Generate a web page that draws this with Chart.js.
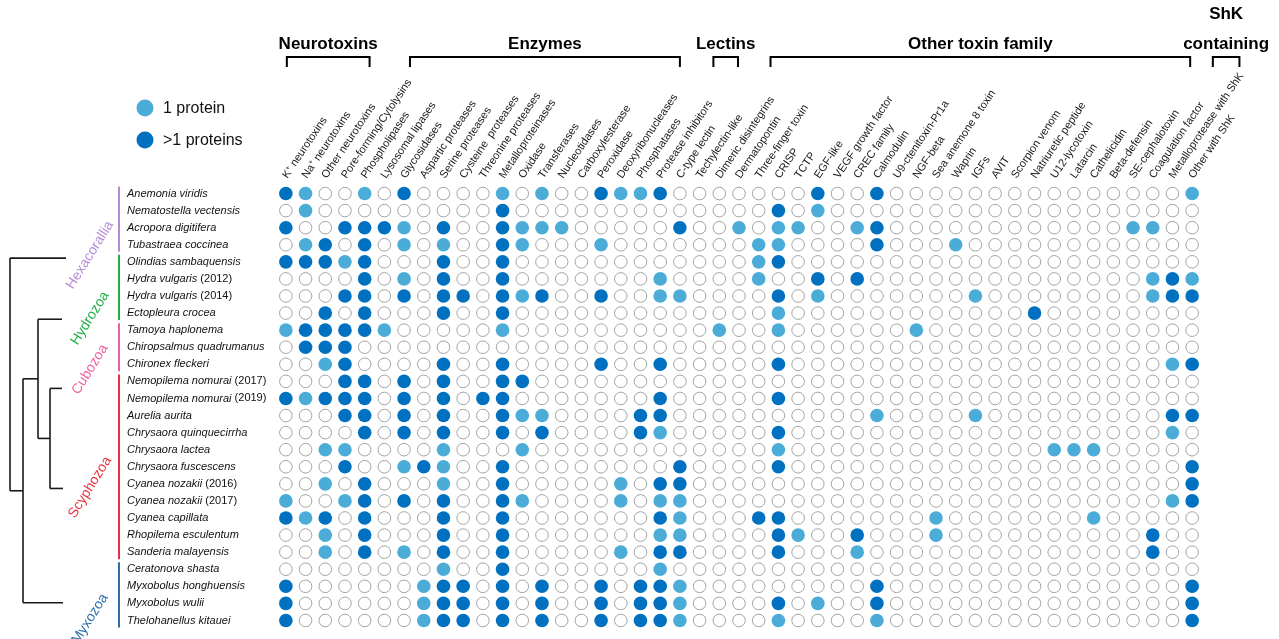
<!DOCTYPE html>
<html>
<head>
<meta charset="utf-8">
<title>Toxin families across cnidarian and myxozoan species</title>
<script src="https://cdn.jsdelivr.net/npm/chart.js@4/dist/chart.umd.min.js"></script>
<style>
  html, body { margin: 0; padding: 0; background: #ffffff; }
  #wrap { width: 1279px; height: 639px; position: relative; }
</style>
</head>
<body>
<div id="wrap"><canvas id="toxinChart" width="1279" height="639"></canvas></div>
<script>
// Toxin families (columns)
const toxinFamilies = [
  'K\u207A neurotoxins', 'Na\u207A neurotoxins', 'Other neurotoxins', 'Pore-forming/Cytolysins',
  'Phospholipases', 'Lysosomal lipases', 'Glycosidases', 'Aspartic proteases', 'Serine proteases',
  'Cysteine  proteases', 'Threonine proteases', 'Metalloproteinases', 'Oxidase', 'Transferases',
  'Nucleotidases', 'Carboxylesterase', 'Peroxidase', 'Deoxyribonucleases', 'Phosphatases',
  'Protease inhibitors', 'C-type lectin', 'Techylectin-like', 'Dimeric disintegrins', 'Dermatopontin',
  'Three-finger toxin', 'CRISP', 'TCTP', 'EGF-like', 'VEGF growth factor', 'CREC family',
  'Calmodulin', 'U9-ctenitoxin-Pr1a', 'NGF-beta', 'Sea anemone 8 toxin', 'Waprin', 'IGFs', 'AVIT',
  'Scorpion venom', 'Natriuretic peptide', 'U12-lycotoxin', 'Latarcin', 'Cathelicidin',
  'Beta-defensin', 'SE-cephalotoxin', 'Coagulation factor', 'Metalloprotease with ShK', 'Other with ShK'
];

// Species (rows, top to bottom)
const species = [
  'Anemonia viridis', 'Nematostella vectensis', 'Acropora digitifera', 'Tubastraea coccinea',
  'Olindias sambaquensis', 'Hydra vulgaris (2012)', 'Hydra vulgaris (2014)', 'Ectopleura crocea',
  'Tamoya haplonema', 'Chiropsalmus quadrumanus', 'Chironex fleckeri',
  'Nemopilema nomurai (2017)', 'Nemopilema nomurai (2019)', 'Aurelia aurita',
  'Chrysaora quinquecirrha', 'Chrysaora lactea', 'Chrysaora fuscescens', 'Cyanea nozakii (2016)',
  'Cyanea nozakii (2017)', 'Cyanea capillata', 'Rhopilema esculentum', 'Sanderia malayensis',
  'Ceratonova shasta', 'Myxobolus honghuensis', 'Myxobolus wulii', 'Thelohanellus kitauei'
];

// Number of proteins per family: 0 = none, 1 = one protein, 2 = more than one
const presence = [
  '210010200001' + '010021120000' + '000200200000' + '00000000001',
  '010000000002' + '000000000000' + '020100000000' + '00000000000',
  '200222102002' + '111000002001' + '011001200000' + '00000001100',
  '012020101002' + '100010000000' + '110000200010' + '00000000000',
  '222120002002' + '000000000000' + '120000000000' + '00000000000',
  '000020102002' + '000000010000' + '100202000000' + '00000000121',
  '000220202202' + '120020011000' + '020100000001' + '00000000122',
  '002020002002' + '000000000000' + '010000000000' + '00200000000',
  '122221000001' + '000000000010' + '010000001000' + '00000000000',
  '022200000000' + '000000000000' + '000000000000' + '00000000000',
  '001200002002' + '000020020000' + '020000000000' + '00000000012',
  '000220202002' + '200000000000' + '000000000000' + '00000000000',
  '212220202022' + '000000020000' + '020000000000' + '00000000000',
  '000220202002' + '110000220000' + '000000100001' + '00000000022',
  '000020202002' + '020000210000' + '020000000000' + '00000000010',
  '001100001000' + '100000000000' + '010000000000' + '00011100000',
  '000200121002' + '000000002000' + '020000000000' + '00000000002',
  '001020001002' + '000001022000' + '000000000000' + '00000000002',
  '100120202002' + '100001011000' + '000000000000' + '00000000012',
  '212020002002' + '000000021000' + '220000000100' + '00000100000',
  '001020002002' + '000000011000' + '021002000100' + '00000000200',
  '001020102002' + '000001022000' + '020001000000' + '00000000200',
  '000000001002' + '000000010000' + '000000000000' + '00000000000',
  '200000012202' + '020020221000' + '000000200000' + '00000000002',
  '200000012202' + '020020221000' + '020100200000' + '00000000002',
  '200000012202' + '020020221000' + '010000100000' + '00000000002'
];

// Clades: name, first/last row, colour
const cladeNames = ['Hexacorallia', 'Hydrozoa', 'Cubozoa', 'Scyphozoa', 'Myxozoa'];
const cladeFirstRow = [0, 4, 8, 11, 22];
const cladeLastRow = [3, 7, 10, 21, 25];
const cladeColors = ['#B58BD8', '#1FAF45', '#EE5FA0', '#E8323F', '#2E6DA6'];
const cladeLabelRow = [3.6, 7.3, 10.3, 17.2, 24.9];

// Dendrogram leaves (row position) for each clade
const treeLeafRow = [3.78, 7.36, 11.41, 17.27, 23.96];

// Column groups shown in the header (column positions)
const groupNames = [['Neurotoxins'], ['Enzymes'], ['Lectins'], ['Other toxin family'], ['ShK', 'containing']];
const groupFrom = [0.05, 6.3, 21.7, 24.6, 47.05];
const groupTo = [4.25, 20.0, 22.95, 45.9, 48.4];

const legendLabels = ['1 protein', '>1 proteins'];

const COLOR_ONE = '#4BACD8';
const COLOR_MANY = '#0070C0';
const FONT = '"Liberation Sans", Arial, Helvetica, sans-serif';

// Split cell matrix into the three point sets
const cells = [[], [], []];
presence.forEach((row, r) => {
  [...row].forEach((ch, c) => cells[Number(ch)].push({ x: c, y: r }));
});

const decorPlugin = {
  id: 'decor',
  afterDraw(chart) {
    const ctx = chart.ctx;
    const xs = chart.scales.x;
    const ys = chart.scales.y;
    ctx.save();

    // Species labels (italic binomial, upright year)
    ctx.textBaseline = 'middle';
    ctx.textAlign = 'left';
    species.forEach((name, i) => {
      const y = ys.getPixelForValue(i);
      const k = name.indexOf(' (');
      const main = k >= 0 ? name.slice(0, k) : name;
      ctx.fillStyle = '#111';
      ctx.font = 'italic 11px ' + FONT;
      ctx.fillText(main, 127, y);
      if (k >= 0) {
        const w = ctx.measureText(main).width;
        ctx.font = '11px ' + FONT;
        ctx.fillText(name.slice(k), 127 + w, y);
      }
    });

    // Clade bars and rotated clade names
    cladeNames.forEach((name, i) => {
      const y1 = ys.getPixelForValue(cladeFirstRow[i]) - 7;
      const y2 = ys.getPixelForValue(cladeLastRow[i]) + 7;
      ctx.strokeStyle = cladeColors[i];
      ctx.lineWidth = 2;
      ctx.beginPath();
      ctx.moveTo(119, y1);
      ctx.lineTo(119, y2);
      ctx.stroke();

      ctx.save();
      ctx.translate(90, ys.getPixelForValue(cladeLabelRow[i]));
      ctx.rotate(-58 * Math.PI / 180);
      ctx.fillStyle = cladeColors[i];
      ctx.font = '14px ' + FONT;
      ctx.textAlign = 'center';
      ctx.textBaseline = 'middle';
      ctx.fillText(name, 0, 0);
      ctx.restore();
    });

    // Dendrogram
    const py = (v) => ys.getPixelForValue(v);
    const [hex, hyd, cub, scy, myx] = treeLeafRow;
    const nodeC = (cub + scy) / 2;
    const nodeB = (hyd + nodeC) / 2;
    const nodeA = (nodeB + myx) / 2;
    ctx.strokeStyle = '#1a1a1a';
    ctx.lineWidth = 1.6;
    const seg = (x1, y1, x2, y2) => { ctx.beginPath(); ctx.moveTo(x1, y1); ctx.lineTo(x2, y2); ctx.stroke(); };
    seg(10, py(hex), 66, py(hex));
    seg(10, py(hex), 10, py(nodeA));
    seg(10, py(nodeA), 23, py(nodeA));
    seg(23, py(nodeB), 23, py(myx));
    seg(23, py(myx), 63, py(myx));
    seg(23, py(nodeB), 38, py(nodeB));
    seg(38, py(hyd), 38, py(nodeC));
    seg(38, py(hyd), 62, py(hyd));
    seg(38, py(nodeC), 50, py(nodeC));
    seg(50, py(cub), 50, py(scy));
    seg(50, py(cub), 62, py(cub));
    seg(50, py(scy), 63, py(scy));

    // Header brackets with group names
    ctx.strokeStyle = '#000';
    ctx.lineWidth = 2;
    ctx.fillStyle = '#000';
    ctx.font = 'bold 17px ' + FONT;
    ctx.textAlign = 'center';
    ctx.textBaseline = 'middle';
    groupNames.forEach((lines, i) => {
      const x1 = xs.getPixelForValue(groupFrom[i]);
      const x2 = xs.getPixelForValue(groupTo[i]);
      ctx.beginPath();
      ctx.moveTo(x1, 67);
      ctx.lineTo(x1, 57);
      ctx.lineTo(x2, 57);
      ctx.lineTo(x2, 67);
      ctx.stroke();
      const cx = (x1 + x2) / 2;
      lines.forEach((t, j) => {
        ctx.fillText(t, cx, 44 - (lines.length - 1 - j) * 30);
      });
    });

    // Legend
    [COLOR_ONE, COLOR_MANY].forEach((col, i) => {
      const y = 108 + i * 32;
      ctx.fillStyle = col;
      ctx.beginPath();
      ctx.arc(145, y, 8.5, 0, Math.PI * 2);
      ctx.fill();
      ctx.fillStyle = '#111';
      ctx.font = '16px ' + FONT;
      ctx.textAlign = 'left';
      ctx.fillText(legendLabels[i], 163, y + 1);
    });

    ctx.restore();
  }
};

new Chart(document.getElementById('toxinChart'), {
  type: 'scatter',
  data: {
    datasets: [
      { label: 'none', data: cells[0], pointRadius: 6.3, pointHoverRadius: 6.3,
        backgroundColor: '#ffffff', borderColor: '#a3a3a3', borderWidth: 1 },
      { label: legendLabels[0], data: cells[1], pointRadius: 6.8, pointHoverRadius: 6.8,
        backgroundColor: COLOR_ONE, borderWidth: 0 },
      { label: legendLabels[1], data: cells[2], pointRadius: 6.8, pointHoverRadius: 6.8,
        backgroundColor: COLOR_MANY, borderWidth: 0 }
    ]
  },
  options: {
    responsive: false,
    animation: false,
    devicePixelRatio: 1,
    events: [],
    layout: { padding: { left: 276, right: 77, top: 0, bottom: 10 } },
    plugins: { legend: { display: false }, tooltip: { enabled: false } },
    scales: {
      x: {
        type: 'linear',
        position: 'top',
        min: -0.5,
        max: toxinFamilies.length - 0.5,
        grid: { display: false },
        border: { display: false },
        afterBuildTicks: (scale) => { scale.ticks = toxinFamilies.map((_, i) => ({ value: i })); },
        afterFit: (scale) => { scale.height = 185; },
        ticks: {
          autoSkip: false,
          minRotation: 56,
          maxRotation: 56,
          padding: -4,
          labelOffset: 10,
          color: '#1a1a1a',
          font: { family: FONT, size: 11 },
          callback: (v) => toxinFamilies[v]
        }
      },
      y: {
        type: 'linear',
        display: false,
        reverse: true,
        min: -0.5,
        max: species.length - 0.5
      }
    }
  },
  plugins: [decorPlugin]
});
</script>
</body>
</html>
